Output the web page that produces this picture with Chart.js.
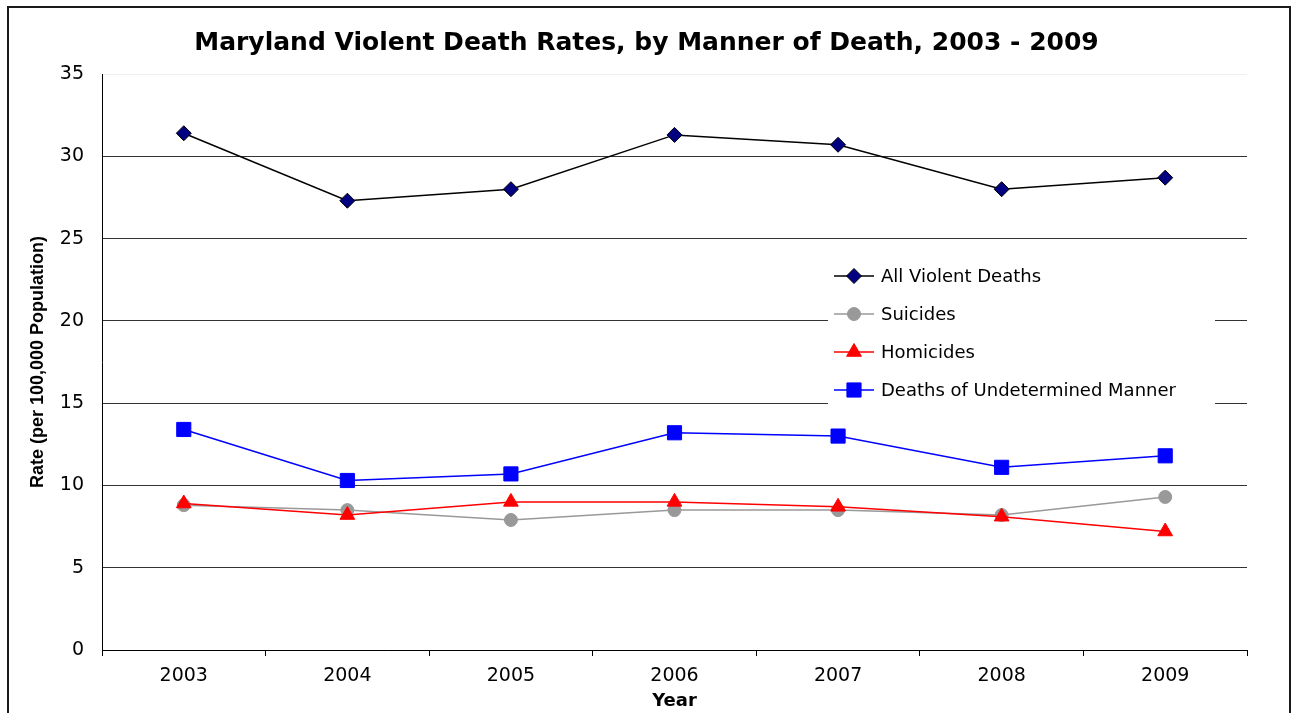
<!DOCTYPE html>
<html>
<head>
<meta charset="utf-8">
<title>Maryland Violent Death Rates</title>
<script src="https://cdn.jsdelivr.net/npm/chart.js@4.4.0/dist/chart.umd.min.js"></script>
<style>
  html, body { margin: 0; padding: 0; background: #fff; overflow: hidden; }
  #wrap { position: relative; width: 1293px; height: 713px; }
  #frame { position: absolute; left: 7px; top: 6px; width: 1280px; height: 800px;
           border: 2px solid #1a1a1a; pointer-events: none; }
</style>
</head>
<body>
<div id="wrap">
  <canvas id="lineChart"></canvas>
  <div id="frame"></div>
</div>
<script>
  'use strict';

  const years          = ['2003', '2004', '2005', '2006', '2007', '2008', '2009'];
  const allViolent     = [31.4, 27.3, 28.0, 31.3, 30.7, 28.0, 28.7];
  const suicides       = [8.8, 8.5, 7.9, 8.5, 8.5, 8.2, 9.3];
  const homicides      = [8.9, 8.2, 9.0, 9.0, 8.7, 8.1, 7.2];
  const undetermined   = [13.4, 10.3, 10.7, 13.2, 13.0, 11.1, 11.8];
  const seriesLabels   = ['All Violent Deaths', 'Suicides', 'Homicides', 'Deaths of Undetermined Manner'];
  const yTicks         = [0, 5, 10, 15, 20, 25, 30, 35];

  const SANS = '"DejaVu Sans", sans-serif';

  // legend drawn inside the plot, on a white box over the gridlines
  const boxLegend = {
    id: 'boxLegend',
    afterDraw(chart, args, opts) {
      const ctx = chart.ctx;
      ctx.save();
      ctx.fillStyle = '#fff';
      ctx.fillRect(opts.x, opts.y, opts.width, opts.height);
      ctx.font = '18px ' + SANS;
      ctx.textBaseline = 'middle';
      ctx.textAlign = 'left';
      chart.data.datasets.forEach(function (ds, i) {
        const y = opts.y + opts.firstRow + i * opts.rowGap;
        const x = opts.x + 6;
        ctx.strokeStyle = ds.borderColor;
        ctx.lineWidth = 1.5;
        ctx.beginPath();
        ctx.moveTo(x, y);
        ctx.lineTo(x + 40, y);
        ctx.stroke();
        ctx.fillStyle = ds.pointBackgroundColor;
        ctx.strokeStyle = ds.pointBorderColor;
        ctx.lineWidth = 1;
        Chart.helpers.drawPoint(ctx, {
          pointStyle: ds.pointStyle,
          radius: ds.pointRadius,
          rotation: 0,
          borderWidth: 1
        }, x + 20, y);
        ctx.fillStyle = '#000';
        ctx.fillText(ds.label, x + 47, y + 1);
      });
      ctx.restore();
    }
  };

  const lineChartData = {
    labels  : years,
    datasets: [
      {
        label               : seriesLabels[0],
        data                : allViolent,
        borderColor         : '#000000',
        borderWidth         : 1.5,
        pointStyle          : 'rectRot',
        pointRadius         : 7.5,
        pointBackgroundColor: '#000080',
        pointBorderColor    : '#000000',
        pointBorderWidth    : 1,
        order               : 0
      },
      {
        label               : seriesLabels[1],
        data                : suicides,
        borderColor         : '#999999',
        borderWidth         : 1.5,
        pointStyle          : 'circle',
        pointRadius         : 6.5,
        pointBackgroundColor: '#999999',
        pointBorderColor    : '#999999',
        pointBorderWidth    : 1,
        order               : 2
      },
      {
        label               : seriesLabels[2],
        data                : homicides,
        borderColor         : '#ff0000',
        borderWidth         : 1.5,
        pointStyle          : 'triangle',
        pointRadius         : 8.5,
        pointBackgroundColor: '#ff0000',
        pointBorderColor    : '#ff0000',
        pointBorderWidth    : 1,
        order               : 1
      },
      {
        label               : seriesLabels[3],
        data                : undetermined,
        borderColor         : '#0000ff',
        borderWidth         : 1.5,
        pointStyle          : 'rect',
        pointRadius         : 10,
        pointBackgroundColor: '#0000ff',
        pointBorderColor    : '#0000ff',
        pointBorderWidth    : 1,
        order               : 3
      }
    ]
  };

  const lineChartOptions = {
    responsive         : true,
    maintainAspectRatio: false,
    animation          : false,
    layout             : { padding: 0 },
    plugins: {
      legend : { display: false },
      tooltip: { enabled: false },
      title  : {
        display : true,
        text    : 'Maryland Violent Death Rates, by Manner of Death, 2003 - 2009',
        color   : '#000',
        font    : { family: SANS, size: 25, weight: 'bold' },
        padding : { top: 28, bottom: 16 }
      },
      boxLegend: { x: 828, y: 257, width: 387, height: 153, firstRow: 19, rowGap: 38 }
    },
    scales: {
      x: {
        offset: true,
        grid  : { offset: true, drawOnChartArea: false, drawTicks: true, tickLength: 6, color: '#000' },
        border: { color: '#000', width: 1 },
        ticks : { color: '#000', padding: 9, font: { family: SANS, size: 19 }, maxRotation: 0 },
        title : { display: true, text: 'Year', color: '#000', font: { family: SANS, size: 18, weight: 'bold' },
                  padding: { top: 1, bottom: 1 } },
        afterFit(scale) { scale.height = 63; }
      },
      y: {
        min: yTicks[0],
        max: yTicks[yTicks.length - 1],
        afterBuildTicks(scale) { scale.ticks = yTicks.map(function (v) { return { value: v }; }); },
        grid  : {
          drawTicks: false,
          color(c) { return c.tick && c.tick.value === 35 ? '#eeeeee' : '#333333'; }
        },
        border: { color: '#000', width: 1 },
        ticks : { color: '#000', padding: 18, font: { family: SANS, size: 19 } },
        title : { display: true, text: 'Rate (per 100,000 Population)', color: '#000',
                  font: { family: '"Liberation Sans", Arial, sans-serif', size: 18, weight: 'bold' },
                  padding: { top: 27, bottom: 0 } },
        afterFit(scale) { scale.width = 102; }
      },
      // empty right-hand margin so the title stays centred on the canvas
      spacer: {
        type    : 'linear',
        position: 'right',
        min     : 0,
        max     : 1,
        grid    : { display: false, drawTicks: false },
        border  : { display: false },
        ticks   : { display: false },
        afterFit(scale) { scale.width = 46; }
      }
    }
  };

  const lineChartCanvas = document.getElementById('lineChart').getContext('2d');
  new Chart(lineChartCanvas, {
    type   : 'line',
    data   : lineChartData,
    options: lineChartOptions,
    plugins: [boxLegend]
  });
</script>
</body>
</html>
